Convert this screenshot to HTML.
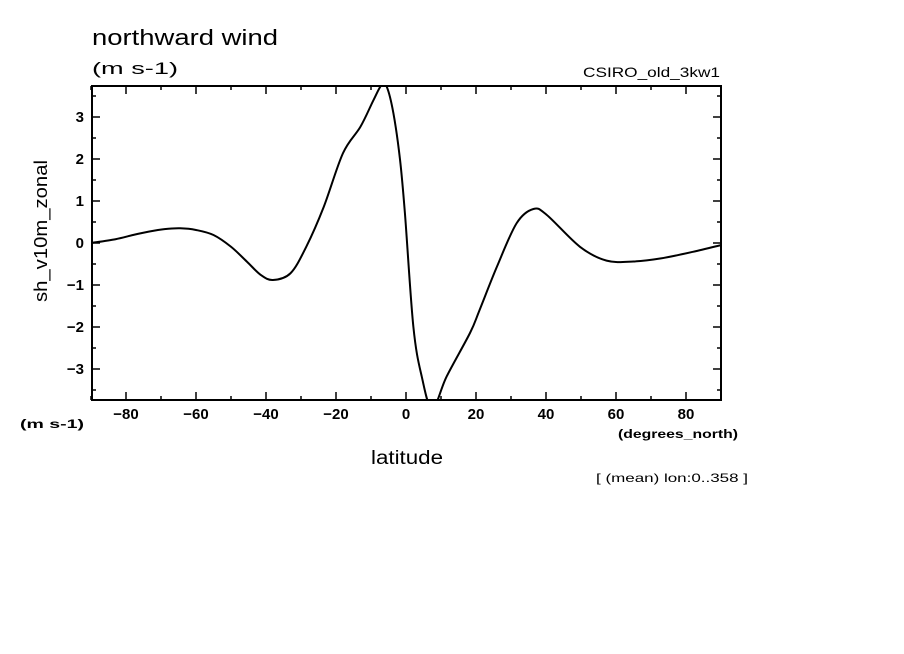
<!DOCTYPE html>
<html><head><meta charset="utf-8"><style>
body{margin:0;background:#fff;}
svg{display:block;font-family:"Liberation Sans",sans-serif;}
</style></head><body>
<svg width="904" height="654">
<defs><clipPath id="pc"><rect x="92" y="86" width="629" height="314"/></clipPath></defs>
<text x="92" y="45" font-size="22" textLength="186" lengthAdjust="spacingAndGlyphs">northward wind</text>
<text x="92" y="74" font-size="17" textLength="86" lengthAdjust="spacingAndGlyphs">(m s-1)</text>
<text x="583" y="77" font-size="14" textLength="137" lengthAdjust="spacingAndGlyphs">CSIRO_old_3kw1</text>
<text transform="translate(47,231) rotate(-90)" font-size="18" text-anchor="middle" textLength="142" lengthAdjust="spacingAndGlyphs">sh_v10m_zonal</text>
<text x="20" y="428" font-size="12" font-weight="bold" textLength="64" lengthAdjust="spacingAndGlyphs">(m s-1)</text>
<text x="618" y="438" font-size="12" font-weight="bold" textLength="120" lengthAdjust="spacingAndGlyphs">(degrees_north)</text>
<text x="371" y="464" font-size="19" textLength="72" lengthAdjust="spacingAndGlyphs">latitude</text>
<text x="596" y="482" font-size="12" textLength="152" lengthAdjust="spacingAndGlyphs">[ (mean) lon:0..358 ]</text>
<g id="axes"></g>
<rect x="92" y="86" width="629" height="314" fill="none" stroke="#000" stroke-width="2"/>
<path id="line" fill="none" stroke="#000" stroke-width="2" stroke-linejoin="round" clip-path="url(#pc)"/>
</svg>
<script>
const lats=[-90,-83,-78,-73.5,-69,-64.5,-60,-55,-50,-45.5,-41.5,-38,-33,-28.5,-23.5,-18,-13,-9.3,-7,-5.5,-3.6,-1.7,-0.3,2.1,4.5,7.5,11.6,18.3,21,26,31.6,36.4,40.2,49.7,57.3,65,72.6,82,90];
const vals=[0,0.09,0.19,0.27,0.33,0.35,0.31,0.19,-0.09,-0.44,-0.76,-0.88,-0.72,-0.09,0.86,2.14,2.77,3.4,3.76,3.72,3.09,1.98,0.7,-1.99,-3.18,-3.95,-3.18,-2.14,-1.6,-0.56,0.47,0.81,0.67,-0.09,-0.42,-0.44,-0.37,-0.21,-0.05];
const xTicks=[-80,-60,-40,-20,0,20,40,60,80];
const yTicks=[-3,-2,-1,0,1,2,3];
const X=v=>406+v*3.5, Y=v=>243-v*42;
const NS='http://www.w3.org/2000/svg';
const g=document.getElementById('axes');
function ln(x1,y1,x2,y2,n){const l=document.createElementNS(NS,'line');
l.setAttribute('x1',x1);l.setAttribute('y1',y1);l.setAttribute('x2',x2);l.setAttribute('y2',y2);
l.setAttribute('stroke','#000');l.setAttribute('stroke-width','1.5');


g.appendChild(l);}
function tx(x,y,s,a,n){const t=document.createElementNS(NS,'text');
t.setAttribute('x',x);t.setAttribute('y',y);t.setAttribute('font-size','15');t.setAttribute('font-weight','bold');t.setAttribute('text-anchor',a);t.textContent=s;


g.appendChild(t);}
for(let v=-90;v<=90;v+=10){const maj=xTicks.includes(v);const L=maj?8:4;
ln(X(v),400,X(v),400-L,'x-tick');ln(X(v),86,X(v),86+L,'x-tick');}
xTicks.forEach(v=>tx(X(v),419,String(v).replace('-','\u2212'),'middle','x-tick-label'));
for(let v=-3.5;v<=3.5;v+=0.5){const maj=yTicks.includes(v);const L=maj?8:4;
ln(92,Y(v),92+L,Y(v),'y-tick');ln(721,Y(v),721-L,Y(v),'y-tick');}
yTicks.forEach(v=>tx(84,Y(v)+5,String(v).replace('-','\u2212'),'end','y-tick-label'));
// smooth path via Catmull-Rom
const P=lats.map((v,i)=>[X(v),Y(vals[i])]);
let d='M'+P[0][0]+','+P[0][1];
for(let i=0;i<P.length-1;i++){const p0=P[Math.max(0,i-1)],p1=P[i],p2=P[i+1],p3=P[Math.min(P.length-1,i+2)];
const c1=[p1[0]+(p2[0]-p0[0])/6,p1[1]+(p2[1]-p0[1])/6],c2=[p2[0]-(p3[0]-p1[0])/6,p2[1]-(p3[1]-p1[1])/6];
d+=' C'+c1[0]+','+c1[1]+' '+c2[0]+','+c2[1]+' '+p2[0]+','+p2[1];}
document.getElementById('line').setAttribute('d',d);
</script>
</body></html>
